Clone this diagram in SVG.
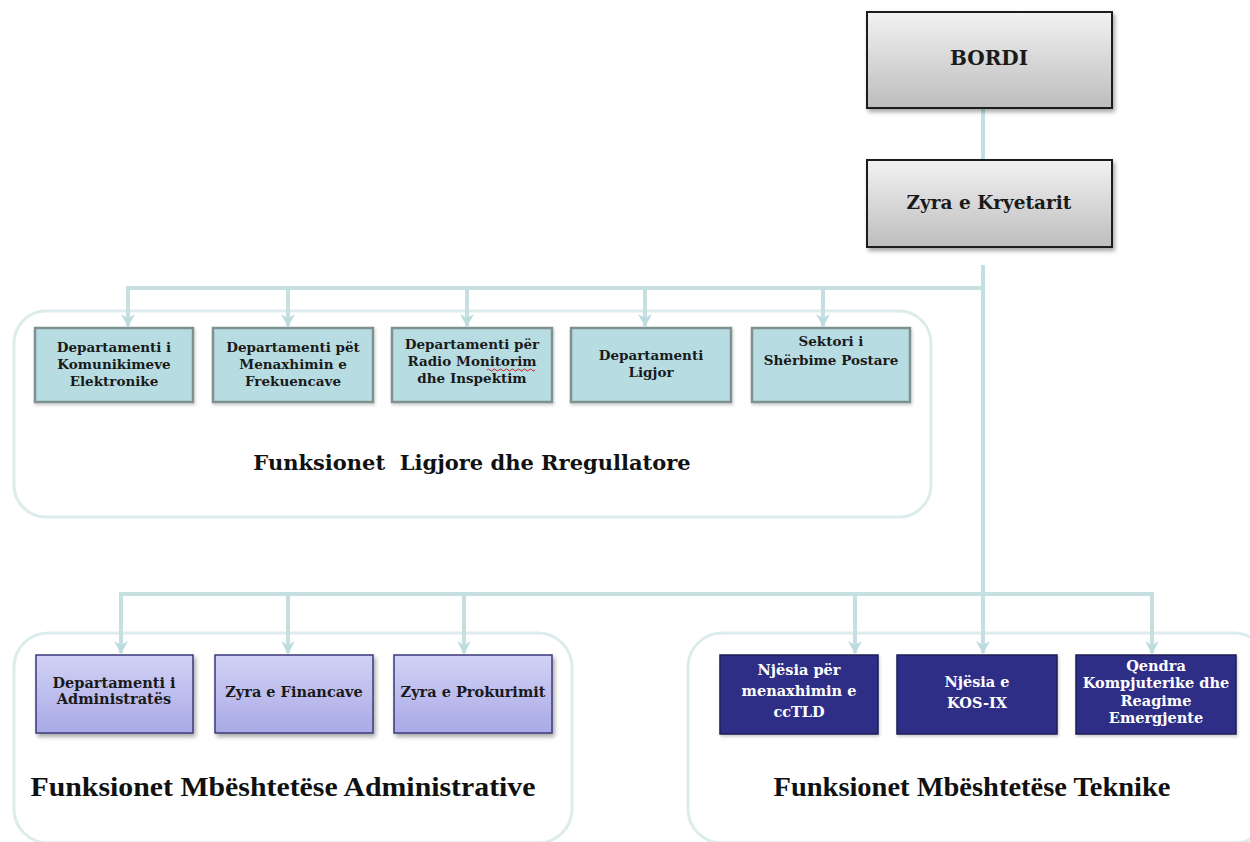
<svg xmlns="http://www.w3.org/2000/svg" width="1250" height="842" viewBox="0 0 1250 842">
  <defs>
    <linearGradient id="grayFill" x1="0" y1="0" x2="0" y2="1">
      <stop offset="0" stop-color="#f2f2f2"/>
      <stop offset="1" stop-color="#bdbdbd"/>
    </linearGradient>
    <linearGradient id="lavFill" x1="0" y1="0" x2="0" y2="1">
      <stop offset="0" stop-color="#d2d2f6"/>
      <stop offset="1" stop-color="#a9a9e6"/>
    </linearGradient>
    <filter id="shadow" x="-10%" y="-10%" width="125%" height="130%">
      <feDropShadow dx="2" dy="3" stdDeviation="2" flood-color="#000" flood-opacity="0.35"/>
    </filter>
    <filter id="softShadow" x="-10%" y="-10%" width="125%" height="130%">
      <feDropShadow dx="1" dy="2" stdDeviation="1.5" flood-color="#000" flood-opacity="0.2"/>
    </filter>
    <marker id="arrow" viewBox="0 0 14 14" refX="12" refY="7" markerWidth="14" markerHeight="14" markerUnits="userSpaceOnUse" orient="auto">
      <path d="M0,0 L13,7 L0,14 L4,7 z" fill="#bcdcdf"/>
    </marker>
    <style>
      .group { fill: #ffffff; stroke: #dcecec; stroke-width: 3; }
      .link { fill: none; stroke: #c6e0e2; stroke-width: 4; }
      .top { fill: url(#grayFill); stroke: #1e1e1e; stroke-width: 2; filter: url(#shadow); }
      .teal { fill: #b7dde3; stroke: #7f9091; stroke-width: 2.5; filter: url(#softShadow); }
      .lav { fill: url(#lavFill); stroke: #3a3a78; stroke-width: 1.5; filter: url(#shadow); }
      .navy { fill: #2d2d86; stroke: #1c1c55; stroke-width: 1.5; filter: url(#softShadow); }
      .t { font-family: "DejaVu Serif", "Liberation Serif", serif; font-weight: bold; text-anchor: middle; fill: #1a1a1a; }
      .small { font-size: 13.5px; }
      .mid { font-size: 14.5px; }
      .w { fill: #ffffff; font-size: 14.5px; }
      .title { font-family: "DejaVu Serif", "Liberation Serif", serif; font-weight: bold; font-size: 21px; text-anchor: middle; fill: #111; }
      .sub { font-family: "Liberation Serif", serif; font-weight: bold; font-size: 28px; text-anchor: middle; fill: #111; }
    </style>
  </defs>

  <rect width="1250" height="842" fill="#ffffff"/>

  <!-- group panels -->
  <g id="panel-legal">
    <rect class="group" x="14" y="311" width="917" height="206" rx="32"/>
    <text class="title" x="472" y="470" xml:space="preserve">Funksionet  Ligjore dhe Rregullatore</text>
  </g>
  <g id="panel-admin">
    <rect class="group" x="14" y="633" width="558" height="210" rx="34"/>
    <text class="sub" x="283" y="796" textLength="505" lengthAdjust="spacingAndGlyphs">Funksionet Mbështetëse Administrative</text>
  </g>
  <g id="panel-tech">
    <rect class="group" x="688" y="633" width="580" height="210" rx="34"/>
    <text class="sub" x="972" y="796" textLength="397" lengthAdjust="spacingAndGlyphs">Funksionet Mbështetëse Teknike</text>
  </g>

  <!-- connectors -->
  <g id="connectors">
    <line class="link" x1="983" y1="108" x2="983" y2="160"/>
    <line class="link" x1="983" y1="265" x2="983" y2="653" marker-end="url(#arrow)"/>
    <polyline class="link" points="983,288 128,288 128,326" marker-end="url(#arrow)"/>
    <line class="link" x1="288" y1="288" x2="288" y2="326" marker-end="url(#arrow)"/>
    <line class="link" x1="467" y1="288" x2="467" y2="326" marker-end="url(#arrow)"/>
    <line class="link" x1="645" y1="288" x2="645" y2="326" marker-end="url(#arrow)"/>
    <line class="link" x1="823" y1="288" x2="823" y2="326" marker-end="url(#arrow)"/>
    <polyline class="link" points="983,594 121,594 121,653" marker-end="url(#arrow)"/>
    <line class="link" x1="288" y1="594" x2="288" y2="653" marker-end="url(#arrow)"/>
    <line class="link" x1="464" y1="594" x2="464" y2="653" marker-end="url(#arrow)"/>
    <polyline class="link" points="983,594 1152,594 1152,653" marker-end="url(#arrow)"/>
    <line class="link" x1="855" y1="594" x2="855" y2="653" marker-end="url(#arrow)"/>
  </g>

  <!-- top level -->
  <g id="bordi">
    <rect class="top" x="867" y="12" width="245" height="96"/>
    <text class="t" x="989" y="65" font-size="20">BORDI</text>
  </g>
  <g id="zyra-kryetarit">
    <rect class="top" x="867" y="160" width="245" height="87"/>
    <text class="t" x="989" y="209" font-size="18.5">Zyra e Kryetarit</text>
  </g>

  <!-- legal and regulatory units -->
  <g id="dep-komunikimeve">
    <rect class="teal" x="35" y="328" width="158" height="74"/>
    <text class="t small" x="114" y="352">Departamenti i</text>
    <text class="t small" x="114" y="369">Komunikimeve</text>
    <text class="t small" x="114" y="386">Elektronike</text>
  </g>
  <g id="dep-frekuencave">
    <rect class="teal" x="213" y="328" width="160" height="74"/>
    <text class="t small" x="293" y="352">Departamenti pët</text>
    <text class="t small" x="293" y="369">Menaxhimin e</text>
    <text class="t small" x="293" y="386">Frekuencave</text>
  </g>
  <g id="dep-monitorim">
    <rect class="teal" x="392" y="328" width="160" height="74"/>
    <text class="t small" x="472" y="349">Departamenti për</text>
    <text class="t small" x="472" y="366">Radio Monitorim</text>
    <text class="t small" x="472" y="383">dhe Inspektim</text>
    <path d="M487,370 q1.5,-2 3,0 t3,0 t3,0 t3,0 t3,0 t3,0 t3,0 t3,0 t3,0 t3,0 t3,0 t3,0 t3,0 t3,0 t3,0 t3,0" fill="none" stroke="#d02020" stroke-width="1"/>
  </g>
  <g id="dep-ligjor">
    <rect class="teal" x="571" y="328" width="160" height="74"/>
    <text class="t small" x="651" y="360">Departamenti</text>
    <text class="t small" x="651" y="377">Ligjor</text>
  </g>
  <g id="sektori-postare">
    <rect class="teal" x="752" y="328" width="158" height="74"/>
    <text class="t small" x="831" y="346">Sektori i</text>
    <text class="t small" x="831" y="365">Shërbime Postare</text>
  </g>

  <!-- administrative support units -->
  <g id="dep-administrates">
    <rect class="lav" x="36" y="655" width="157" height="78"/>
    <text class="t mid" x="114" y="688">Departamenti i</text>
    <text class="t mid" x="114" y="704">Administratës</text>
  </g>
  <g id="zyra-financave">
    <rect class="lav" x="215" y="655" width="158" height="78"/>
    <text class="t mid" x="294" y="697">Zyra e Financave</text>
  </g>
  <g id="zyra-prokurimit">
    <rect class="lav" x="394" y="655" width="158" height="78"/>
    <text class="t mid" x="473" y="697">Zyra e Prokurimit</text>
  </g>

  <!-- technical support units -->
  <g id="njesia-cctld">
    <rect class="navy" x="720" y="655" width="158" height="79"/>
    <text class="t w" x="799" y="675">Njësia për</text>
    <text class="t w" x="799" y="696">menaxhimin e</text>
    <text class="t w" x="799" y="717">ccTLD</text>
  </g>
  <g id="njesia-kosix">
    <rect class="navy" x="897" y="655" width="160" height="79"/>
    <text class="t w" x="977" y="687">Njësia e</text>
    <text class="t w" x="977" y="708">KOS-IX</text>
  </g>
  <g id="qendra-reagime">
    <rect class="navy" x="1076" y="655" width="160" height="79"/>
    <text class="t w" x="1156" y="671">Qendra</text>
    <text class="t w" x="1156" y="688">Kompjuterike dhe</text>
    <text class="t w" x="1156" y="706">Reagime</text>
    <text class="t w" x="1156" y="723">Emergjente</text>
  </g>
</svg>
